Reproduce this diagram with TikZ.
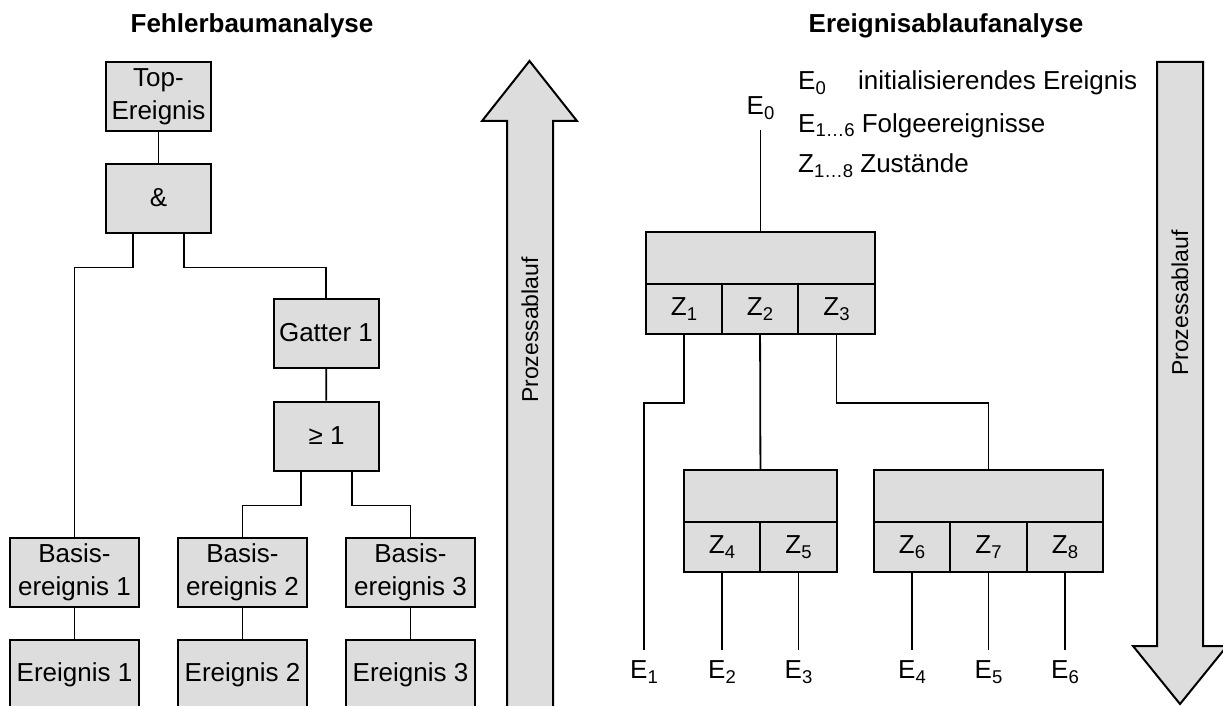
\documentclass[tikz,border=0pt]{standalone}
\usepackage{fontspec}
\setmainfont{Liberation Sans}

\definecolor{kastengrau}{RGB}{221,221,221}
\newcommand\unten[1]{\raisebox{-5pt}{\fontsize{18.5}{18.5}\selectfont #1}}

\tikzset{
  kasten/.style={draw=black,fill=kastengrau,line width=2pt,inner sep=0pt,align=center,
    minimum width=105pt,minimum height=69pt},
  zelle/.style={kasten,minimum width=76.5pt,minimum height=50pt},
  kopf/.style={kasten,minimum height=52pt},
  linie/.style={draw=black,line width=1.8pt},
  marke/.style={inner sep=10pt,anchor=base},
  legende/.style={inner sep=0pt,anchor=base west},
  pfeil/.style={draw=black,fill=kastengrau,line width=2pt,line join=miter},
  titel/.style={font=\fontsize{26}{30}\selectfont\bfseries,anchor=base},
  drehtext/.style={rotate=90,font=\fontsize{23}{27}\selectfont},
}

\begin{document}
\begin{tikzpicture}[x=1pt,y=-1pt,font=\fontsize{26}{33}\selectfont]
    \useasboundingbox (0,0) rectangle (1223,706);

    \node[titel] (titel1) at (252,33) {Fehlerbaumanalyse};
    \node[titel] (titel2) at (946,33) {Ereignisablaufanalyse};

    % Fehlerbaum
    \node[kasten] (top) at (158.5,96.5) {Top-\\Ereignis};
    \node[kasten] (und) at (158.5,198) {\&};
    \node[kasten] (gatter) at (326,333) {Gatter 1};
    \node[kasten] (oder) at (326.5,436) {≥ 1};
    \foreach \i/\x in {1/74.5,2/242.5,3/410.5} {
        \node[kasten,minimum width=129pt] (basis\i) at (\x,572.5) {Basis-\\ereignis \i};
        \node[kasten,minimum width=129pt,minimum height=70pt] (ereignis\i) at (\x,675) {Ereignis \i};
        \draw[linie] (basis\i) -- (ereignis\i);
    }

    \draw[linie] (top) -- (und);
    \draw[linie] ([xshift=-25.5pt]und.south) -- ++(0,34) -| (basis1.north);
    \draw[linie] ([xshift=25.5pt]und.south) -- ++(0,34) -| (gatter.north);
    \draw[linie] (gatter) -- (oder);
    \draw[linie] ([xshift=-25.5pt]oder.south) -- ++(0,34) -| (basis2.north);
    \draw[linie] ([xshift=25.5pt]oder.south) -- ++(0,34) -| (basis3.north);

    \draw[pfeil] (507,712) -- (507,121) -- (482,121) -- (529.5,61) -- (577,121) -- (553,121) -- (553,712) -- cycle;
    \node[drehtext] (prozess1) at (530,330) {Prozessablauf};

    % Ereignisablauf
    \node[marke] (e0) at (760.5,115) {E\unten{0}};
    \node[legende] (leg1) at (798,90) {E\unten{0}};
    \node[legende] (leg1b) at (858,90) {initialisierendes Ereignis};
    \node[legende] (leg2) at (798,132) {E\unten{1…6} Folgeereignisse};
    \node[legende] (leg3) at (798,172) {Z\unten{1…8} Zustände};

    \node[kopf,minimum width=229pt] (kopf1) at (760.5,258) {};
    \node[kopf,minimum width=153pt] (kopf2) at (760.5,496) {};
    \node[kopf,minimum width=229pt] (kopf3) at (988.5,496) {};
    \foreach \n/\x in {1/684,2/760,3/836.5}
        \node[zelle] (z\n) at (\x,309) {Z\unten{\n}};
    \foreach \n/\x in {4/722,5/798.5,6/912,7/988.5,8/1065}
        \node[zelle] (z\n) at (\x,547) {Z\unten{\n}};
    \foreach \n/\x in {1/644,2/722,3/798.5,4/912,5/988.5,6/1065}
        \node[marke] (e\n) at (\x,678) {E\unten{\n}};

    \draw[linie] (e0) -- (kopf1);
    \draw[linie] (z1.south) -- ++(0,68) -| (e1.north);
    \draw[linie] (z2) -- (kopf2);
    \draw[linie] (z3.south) -- ++(0,68) -| (kopf3.north);
    \foreach \z/\e in {4/2,5/3,6/4,7/5,8/6}
        \draw[linie] (z\z) -- (e\e);

    \draw[pfeil] (1157,62) -- (1203,62) -- (1203,646) -- (1227,646) -- (1180,704) -- (1133,646) -- (1157,646) -- cycle;
    \node[drehtext] (prozess2) at (1180,303) {Prozessablauf};
\end{tikzpicture}
\end{document}
